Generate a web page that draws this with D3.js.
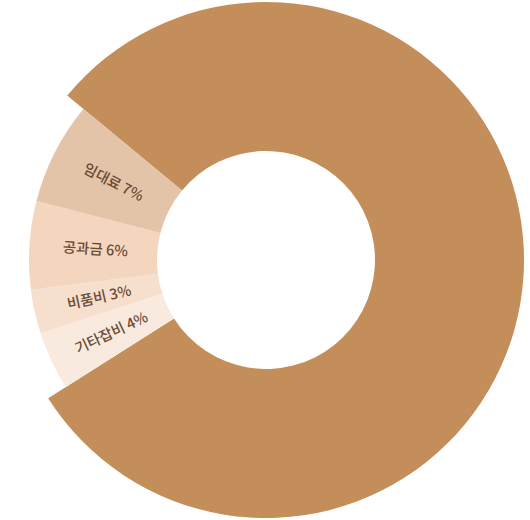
<!DOCTYPE html>
<html>
<head>
<meta charset="utf-8">
<script src="https://cdn.jsdelivr.net/npm/d3@7"></script>
<style>
  html, body { margin: 0; padding: 0; background: #ffffff; }
  svg { display: block; }
</style>
</head>
<body>
<div id="donut-chart"></div>
<script>
// categories and shares (%), big slice first so the small ones sit on the left
var categories = ["운영비", "기타잡비", "비품비", "공과금", "임대료"];
var shares = [80, 4, 3, 6, 7];
var colors = ["#C48E5A", "#F8EADF", "#F7DFCE", "#F4D6BF", "#E3C4A8"];
var showLabel = [false, true, true, true, true];

var width = 530;
var height = 520;
var cx = 266, cy = 260;

var svg = d3.select("#donut-chart")
    .append("svg")
    .attr("width", width)
    .attr("height", height);

var g = svg.append("g")
    .attr("transform", "translate(" + cx + "," + cy + ")");

var data = categories.map(function (c, i) {
    return { name: c, value: shares[i], color: colors[i], label: showLabel[i] };
});

// big slice starts at about -50 degrees (from 12 o'clock)
var startA = -50.4 * Math.PI / 180;
var pie = d3.pie()
    .sort(null)
    .value(d => d.value)
    .startAngle(startA)
    .endAngle(startA + 2 * Math.PI);

var arcs = pie(data);

var innerR = 109;
var bigArc = d3.arc().innerRadius(innerR).outerRadius(258);
var smallArc = d3.arc().innerRadius(innerR).outerRadius(237);
var labelArc = d3.arc().innerRadius(171).outerRadius(171);

g.selectAll("path")
    .data(arcs)
    .join("path")
    .attr("d", (d, i) => i === 0 ? bigArc(d) : smallArc(d))
    .attr("fill", d => d.data.color);

// labels follow the radius, reading toward the centre
g.selectAll("text")
    .data(arcs.filter(d => d.data.label))
    .join("text")
    .attr("transform", function (d) {
        var c = labelArc.centroid(d);
        var mid = (d.startAngle + d.endAngle) / 2 * 180 / Math.PI;
        var rot = mid - 270;
        return "translate(" + c[0] + "," + c[1] + ") rotate(" + rot + ")";
    })
    .attr("text-anchor", "middle")
    .attr("dy", "0.35em")
    .attr("font-family", "'Noto Sans CJK KR', 'Noto Sans', sans-serif")
    .attr("font-size", 14.5)
    .attr("font-weight", 500)
    .attr("fill", "#6A4A35")
    .text(d => d.data.name + " " + d.data.value + "%");
</script>
</body>
</html>
